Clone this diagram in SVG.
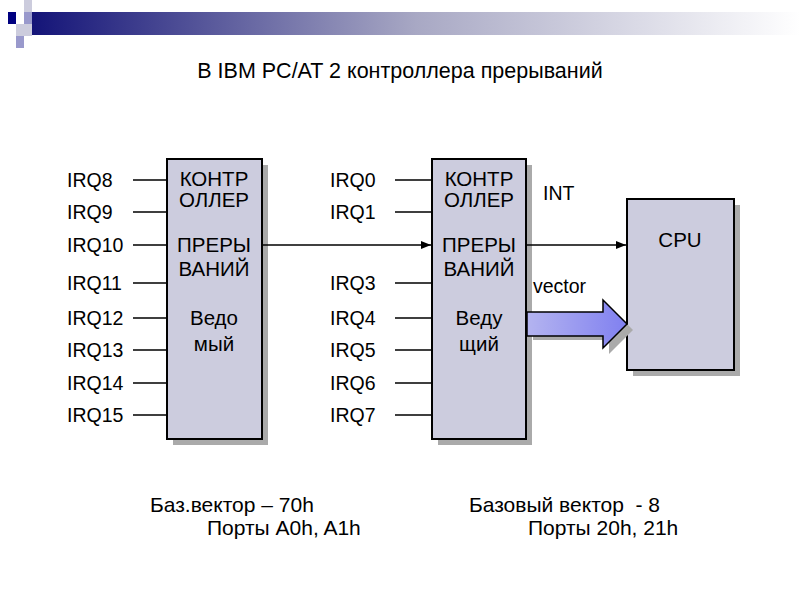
<svg xmlns="http://www.w3.org/2000/svg" width="800" height="600" viewBox="0 0 800 600">
<defs>
<linearGradient id="bar" x1="0" x2="1"><stop offset="0" stop-color="#141478"/><stop offset="0.5" stop-color="#a8a8c4"/><stop offset="1" stop-color="#ffffff"/></linearGradient>
<linearGradient id="fat" x1="0" x2="1"><stop offset="0" stop-color="#b4b4f0"/><stop offset="1" stop-color="#8080f0"/></linearGradient>
<marker id="ah" markerWidth="10" markerHeight="8" refX="10" refY="4" orient="auto" markerUnits="userSpaceOnUse"><path d="M0,0 L10,4 L0,8 Z" fill="#000"/></marker>
</defs>
<style>
text{font-family:"Liberation Sans",Arial,sans-serif;font-size:19.5px;fill:#000}
.box{fill:#ccccde;stroke:#000;stroke-width:2}
.sh{fill:#aaaaaa}
.ln{stroke:#000;stroke-width:1.3;fill:none}
.c{text-anchor:middle}
.b{font-size:20.5px}
.bt{font-size:21px}
</style>
<rect x="0" y="0" width="800" height="600" fill="#fff"/>
<rect x="32" y="12" width="768" height="23" fill="url(#bar)"/>
<rect x="8" y="12" width="8" height="12" fill="#000080"/>
<rect x="24" y="12" width="8" height="12" fill="#9999cc"/>
<rect x="16" y="24" width="16" height="12" fill="#ccccdd"/>
<rect x="16" y="36" width="8" height="12" fill="#9999cc"/>
<rect x="24" y="0" width="8" height="12" fill="#ccccdd"/>
<text x="400" y="78" class="c" style="font-size:21.5px">В IBM PC/AT 2 контроллера прерываний</text>
<g id="slave"><rect class="sh" x="173" y="165" width="95" height="280"/><rect class="box" x="167" y="159" width="95" height="280"/>
<text class="c b" x="214" y="186">КОНТР</text><text class="c b" x="214" y="207">ОЛЛЕР</text><text class="c b" x="214" y="252">ПРЕРЫ</text><text class="c b" x="214" y="276">ВАНИЙ</text><text class="c b" x="214" y="325">Ведо</text><text class="c b" x="214" y="351">мый</text></g>
<g id="master"><rect class="sh" x="438" y="165" width="94" height="280"/><rect class="box" x="432" y="159" width="94" height="280"/>
<text class="c b" x="479" y="186">КОНТР</text><text class="c b" x="479" y="207">ОЛЛЕР</text><text class="c b" x="479" y="252">ПРЕРЫ</text><text class="c b" x="479" y="276">ВАНИЙ</text><text class="c b" x="479" y="325">Веду</text><text class="c b" x="479" y="351">щий</text></g>
<g id="cpu"><rect class="sh" x="633" y="205" width="107" height="171"/><rect class="box" x="627" y="199" width="107" height="171"/><text class="c b" x="680" y="247">CPU</text></g>
<g id="labels">
<text x="67" y="187">IRQ8</text><text x="67" y="219">IRQ9</text><text x="67" y="252">IRQ10</text><text x="67" y="290">IRQ11</text><text x="67" y="325">IRQ12</text><text x="67" y="357">IRQ13</text><text x="67" y="390">IRQ14</text><text x="67" y="422">IRQ15</text>
<text x="330" y="187">IRQ0</text><text x="330" y="219">IRQ1</text><text x="330" y="290">IRQ3</text><text x="330" y="325">IRQ4</text><text x="330" y="357">IRQ5</text><text x="330" y="390">IRQ6</text><text x="330" y="422">IRQ7</text>
<text x="543" y="200">INT</text><text x="533" y="293">vector</text>
<text class="bt" x="150" y="512">Баз.вектор – 70h</text><text class="bt" x="207" y="535">Порты A0h, A1h</text>
<text class="bt" x="469" y="512" xml:space="preserve">Базовый вектор  - 8</text><text class="bt" x="528" y="535">Порты 20h, 21h</text>
</g>
<g id="connectors">
<path class="ln" d="M133,180H167M133,212H167M133,245H167M133,283H167M133,318H167M133,350H167M133,383H167M133,415H167"/>
<path class="ln" d="M395,180H432M395,212H432M395,283H432M395,318H432M395,350H432M395,383H432M395,415H432"/>
<path class="ln" d="M262,245H431" marker-end="url(#ah)"/>
<path class="ln" d="M526,245H626" marker-end="url(#ah)"/>
<path d="M533,318H609V306L633,330L609,354V340H533Z" fill="#aaaaaa"/>
<path d="M527,312H603V300L627,324L603,348V336H527Z" fill="url(#fat)" stroke="#000" stroke-width="1.5"/>
</g>
</svg>
